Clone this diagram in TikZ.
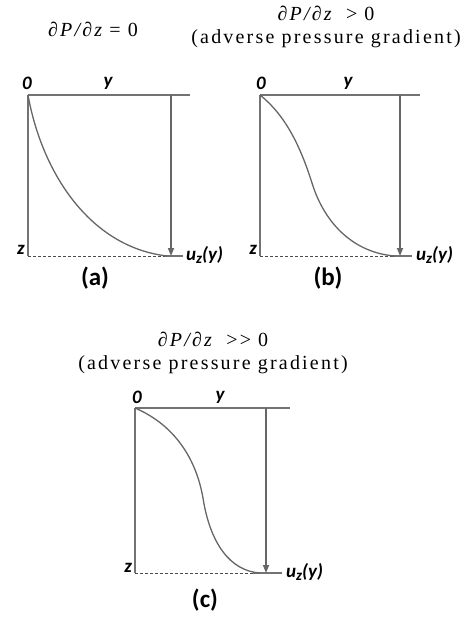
\documentclass[tikz,border=0pt]{standalone}
\usepackage{fontspec}
\setmainfont{Liberation Serif}
\newfontfamily\titlefont[LetterSpace=11]{Liberation Serif}
\newfontfamily\labfont{Carlito}
\usetikzlibrary{arrows.meta}

\newcommand{\uzy}{u\raisebox{-3pt}{\fontsize{15}{15}\selectfont z}(y)}

\begin{document}
\begin{tikzpicture}[x=1pt, y=-1pt]

% --- Define Styles ---
\tikzset{
    frame/.style={draw=black!55, line width=1.8pt},
    flow/.style={-{Triangle[length=8pt, width=6pt]}, draw=black!60, line width=1.6pt},
    wall/.style={dashed, dash pattern=on 3pt off 2pt, draw=black!70, line width=0.9pt},
    wallend/.style={draw=black!55, line width=1.4pt},
    profile/.style={draw=black!60, line width=1.3pt},
    axlabel/.style={font=\labfont\bfseries\itshape\fontsize{19}{19}\selectfont, inner sep=1pt},
    caption/.style={font=\labfont\bfseries\fontsize{25}{25}\selectfont, inner sep=1pt},
    title/.style={font=\titlefont\fontsize{20}{23}\selectfont, align=center, inner sep=1pt}
}

\useasboundingbox (0,0) rectangle (469,620);

% ================= (a) ZERO GRADIENT =================
\begin{scope}[shift={(28,95)}]
    \node[title] (ta) at (65,-66) {{\itshape ∂P/∂z} = 0};
    % Walls
    \draw[frame] (0,0) -- (162,0);
    \draw[frame] (0,0) -- (0,161);
    \draw[wall] (0,161) -- (139,161);
    \draw[wallend] (137,161) -- (155,161);
    % Velocity
    \draw[flow] (143,0) -- (143,161);
    \draw[profile] (0,0) .. controls (14,78) and (62,152) .. (139,161);
    % Labels
    \node[axlabel, anchor=south] (oa) at (-1,-4) {0};
    \node[axlabel, anchor=south] (ya) at (80,-4) {y};
    \node[axlabel, anchor=east] (za) at (-2,155) {z};
    \node[axlabel, anchor=west] (ua) at (157,160) {\uzy};
    \node[caption] (ca) at (67,183) {(a)};
\end{scope}

% ================= (b) ADVERSE GRADIENT =================
\begin{scope}[shift={(260,95)}]
    \node[title] (tb) at (66,-68) {{\itshape ∂P/∂z} \ > 0\\(adverse pressure gradient)};
    % Walls
    \draw[frame] (0,0) -- (160,0);
    \draw[frame] (0,0) -- (0,161);
    \draw[wall] (0,161) -- (136,161);
    \draw[wallend] (133,161) -- (152,161);
    % Velocity
    \draw[flow] (140,0) -- (140,161);
    \draw[profile] (0,0) .. controls (25,20) and (40,50) .. (52,88)
                         .. controls (65,130) and (95,158) .. (135,161);
    % Labels
    \node[axlabel, anchor=south] (ob) at (1,-4) {0};
    \node[axlabel, anchor=south] (yb) at (88,-4) {y};
    \node[axlabel, anchor=east] (zb) at (-2,155) {z};
    \node[axlabel, anchor=west] (ub) at (155,160) {\uzy};
    \node[caption] (cb) at (68,183) {(b)};
\end{scope}

% ================= (c) STRONG ADVERSE GRADIENT =================
\begin{scope}[shift={(135,408)}]
    \node[title] (tc) at (78,-55) {{\itshape ∂P/∂z} \ >> 0\\(adverse pressure gradient)};
    % Walls
    \draw[frame] (0,0) -- (155,0);
    \draw[frame] (0,0) -- (0,165);
    \draw[wall] (0,165) -- (120,165);
    \draw[wallend] (118,165) -- (147,165);
    % Velocity
    \draw[flow] (131,0) -- (131,165);
    \draw[profile] (0,0) .. controls (35,15) and (60,45) .. (68,90)
                         .. controls (75,135) and (95,163) .. (125,165);
    % Labels
    \node[axlabel, anchor=south] (oc) at (2,-3) {0};
    \node[axlabel, anchor=south] (yc) at (85,-3) {y};
    \node[axlabel, anchor=east] (zc) at (-2,160) {z};
    \node[axlabel, anchor=west] (uc) at (150,164) {\uzy};
    \node[caption] (cc) at (70,192) {(c)};
\end{scope}

\end{tikzpicture}
\end{document}
